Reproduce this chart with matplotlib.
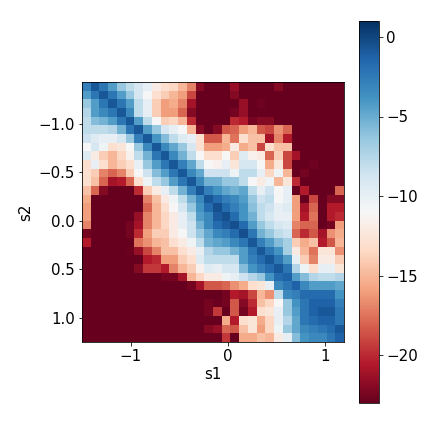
import numpy as np
import matplotlib
matplotlib.use('Agg')
import matplotlib.pyplot as plt

# границы осей
s1_range = [-1.5, 1.2]
s2_range = [1.25, -1.43]
s1_ticks = [-1, 0, 1]
s2_ticks = [-1.0, -0.5, 0.0, 0.5, 1.0]
cbar_ticks = [0, -5, -10, -15, -20]
vmin_val = -23
vmax_val = 1

# значения ячеек (строка 0 - верх)
rows_top = [
    [-2.8,-0.8,-2.3,-4.3,-6.5,-8,-9,-10,-12,-13,-13.5,-15,-17,-22,-23,-23,-23,-21.5,-23,-23,-23,-23,-22,-23,-23,-23,-23,-23,-23,-23],
    [-4.3,-2.3,-0.8,-2.3,-4.3,-6.5,-9,-11,-13,-14,-15,-16,-19,-23,-23,-23,-23,-22,-23,-23,-23,-23,-23,-23,-23,-23,-23,-23,-23,-23],
    [-6.5,-4.3,-2.3,-0.8,-2.3,-4.3,-8,-10,-14,-16,-15.5,-17,-21,-23,-23,-23,-23,-23,-21.5,-23,-22.7,-23,-23,-23,-23,-23,-23,-23,-23,-23],
    [-7.5,-4.3,-3.3,-2.3,-0.8,-3.3,-8,-10,-14,-16,-16,-18,-22,-23,-23,-23,-23,-22.5,-21.5,-23,-23,-23,-23,-23,-23,-23,-23,-23,-23,-23],
    [-8,-5.8,-5.3,-4.3,-2.3,-0.8,-4.3,-8,-11,-14,-13.5,-15,-20,-23,-23,-23,-23,-20,-20.5,-22.5,-22,-22,-23,-23,-23,-23,-23,-23,-23,-23],
    [-8,-8,-8,-7.5,-5.3,-2.3,-0.8,-4.3,-6.5,-9,-10,-11,-15,-22,-23,-22,-18.5,-18,-16,-15,-18.5,-19,-16.5,-18,-23,-23,-23,-23,-23,-23],
    [-8.5,-9.5,-10,-10,-9,-6.5,-2.8,-0.8,-3.8,-5.8,-8,-9.5,-10,-13,-18.5,-18.5,-15,-17.5,-13,-14.5,-14.5,-21,-17,-20.5,-23,-23,-23,-23,-23,-23],
    [-11,-9,-10.5,-13,-12.5,-11,-6.5,-3.3,-0.8,-3.3,-4.8,-6.5,-9,-13,-16,-16,-15.5,-12,-15.5,-14.5,-19,-13,-14.5,-14.5,-23,-23,-23,-23,-23,-23],
    [-9.5,-12,-14,-15,-13.5,-11.5,-8,-5.3,-2.3,-0.8,-3.3,-5.3,-8,-11,-13,-13,-11,-14,-9.5,-11.5,-12,-18,-14,-19,-21,-23,-23,-23,-23,-23],
    [-13,-10,-13,-15,-14,-13,-10,-6.5,-4.3,-2.3,-0.8,-2.8,-4.8,-8,-11,-11.5,-10,-12.5,-9,-9,-11,-15.5,-12.5,-19,-23,-23,-22.7,-23,-23,-23],
    [-13,-14,-17,-18,-17,-14,-11,-8.5,-5.8,-4.3,-2.3,-0.8,-3.3,-4.8,-8.5,-8.5,-8.5,-10.5,-8,-8,-10,-13.5,-10.5,-15,-23,-22.5,-23,-23,-23,-23],
    [-13,-14.5,-18,-21,-20.5,-18,-13,-10.5,-8,-6.5,-4.3,-2.3,-0.8,-3.3,-5.3,-5.3,-6.5,-6.5,-8,-11,-12,-10.5,-15,-12.5,-20,-23,-23,-23,-23,-23],
    [-14.5,-18,-22,-23,-23,-23,-20,-14,-12,-10,-8,-5.3,-2.8,-0.8,-2.8,-3.8,-4.8,-5.3,-4.8,-8,-10,-8.5,-11,-10,-23,-20.5,-23,-23,-23,-18],
    [-15.5,-23,-23,-23,-23,-23,-23,-17,-14.5,-12,-10.5,-8,-5.3,-3.3,-0.8,-1.8,-2.8,-3.3,-4.3,-6.5,-8.5,-8,-11,-10,-16,-23,-19,-23,-22,-22],
    [-16,-23,-23,-23,-23,-23,-23,-18,-15,-13,-11,-9,-6.5,-3.8,-1.8,-0.5,-1.8,-2.8,-3.8,-6,-8,-8.5,-10,-9.5,-16,-21,-18,-23,-20.5,-20.5],
]
rows_bottom = [
    [-16,-23,-23,-23,-23,-23,-21.5,-17,-15,-13.5,-12,-10,-8,-4.3,-3.3,-1,-0.5,-1.8,-3.8,-5.3,-8,-9,-10,-10,-16,-20.5,-17.5,-23,-20.5,-20],
    [-17,-23,-23,-23,-23,-22.5,-21,-17,-15,-13.5,-12,-10,-8.5,-5.3,-3.3,-1.8,-1,-0.5,-1.8,-4.3,-6.5,-8,-9,-9.5,-17,-18,-18,-23,-22.5,-16],
    [-22.5,-23,-23,-23,-23,-22.5,-20,-16,-14,-14,-12,-11,-8.5,-6.5,-4.8,-3.3,-2.8,-1.8,-0.5,-2.3,-5.3,-6.5,-8,-8.5,-18,-20,-18.5,-21,-16.5,-15.5],
    [-20.5,-23,-23,-23,-23,-23,-17.5,-16.5,-15,-14.5,-13,-12,-10.5,-8,-5.3,-4.8,-4.3,-3.3,-2.3,-0.8,-2.8,-4.3,-5.8,-7,-14,-15.5,-14.5,-20.5,-18.5,-15],
    [-23,-23,-23,-23,-23,-22.8,-21.5,-19,-17,-14.5,-14.5,-13,-12,-10,-7.5,-6.5,-6.5,-5.3,-4.3,-2.3,-0.8,-2.3,-3.8,-7,-12,-15,-17.5,-12.5,-12.5,-16.5],
    [-23,-23,-23,-23,-23,-23,-23,-20.5,-20,-16,-16,-14,-13,-9.5,-8,-8,-8,-8,-4.3,-2.8,-1.8,-0.8,-2.3,-4.3,-10,-14,-17,-12,-12,-14],
    [-23,-23,-23,-23,-23,-23,-22,-19.5,-19.5,-20.5,-17,-15,-14,-11.5,-9.5,-10,-9,-9,-5.8,-3.8,-2.8,-1.8,-0.8,-2.3,-7.5,-10.5,-13,-10,-10,-12.5],
    [-23,-23,-23,-23,-23,-23,-23,-23,-23,-22.5,-22.5,-21,-15,-13.5,-12,-12,-10.5,-10,-8.5,-7.5,-6.5,-3.8,-1.8,-1.3,-4.3,-5.8,-7.5,-8,-8,-7.5],
    [-23,-23,-23,-23,-23,-23,-23,-23,-23,-23,-23,-23,-22.5,-21,-18.5,-18.5,-18,-16.5,-15.5,-13,-12.5,-10,-3.3,-2.3,-1.3,-3.3,-4.3,-4.3,-4.3,-4.8],
    [-23,-23,-23,-23,-23,-23,-23,-23,-23,-23,-23,-23,-23,-23,-23,-23,-22.5,-20.5,-21,-19,-15,-16.5,-8,-3.3,-2.8,-1.8,-1.8,-1.8,-1.8,-3.8],
    [-23,-23,-23,-23,-23,-23,-23,-23,-23,-23,-23,-23,-23,-23,-22.5,-22.8,-22.5,-18.5,-22,-20,-14.5,-13.5,-11,-6.5,-3.8,-2.3,-1.3,-1.3,-1.3,-2.8],
    [-23,-23,-23,-23,-23,-23,-23,-23,-23,-23,-23,-23,-23,-23,-22.5,-19.5,-23,-18.5,-22.5,-20.5,-13,-12.5,-10,-6.5,-4.3,-2.3,-1.3,-0.8,-0.8,-2.3],
    [-23,-23,-23,-23,-23,-23,-23,-23,-23,-23,-23,-23,-23,-23,-23,-23,-15.5,-20.5,-13,-12.5,-15.5,-13.5,-10,-7.5,-4.8,-2.3,-1.8,-1.3,-1.3,-2.3],
    [-23,-23,-23,-23,-23,-23,-23,-23,-23,-23,-23,-23,-23,-23,-22,-21.5,-18,-18.5,-14.5,-12.5,-16,-13.5,-10.5,-6.5,-4.8,-3.3,-2.8,-2.3,-1.8,-0.8],
    [-23,-23,-23,-23,-23,-23,-23,-23,-23,-23,-23,-23,-23,-23,-23,-23,-19.5,-23,-15.5,-15.5,-14.5,-15,-12,-10,-5.8,-3.8,-3.3,-3.3,-2.3,-1.3],
]
grid = np.array(rows_top + rows_bottom)

plt.rcParams['font.size'] = 15

fig = plt.figure(figsize=(6, 6), dpi=72)
ax = fig.add_axes([82/432, 1 - 342/432, 262/432, 260/432])
cax = fig.add_axes([359/432, 1 - 403/432, 20/432, 382/432])

im = ax.imshow(grid, cmap='RdBu', vmin=vmin_val, vmax=vmax_val, aspect='auto',
               interpolation='nearest',
               extent=[s1_range[0], s1_range[1], s2_range[0], s2_range[1]])
ax.set_xticks(s1_ticks)
ax.set_yticks(s2_ticks)
ax.set_xlabel('s1', labelpad=3)
ax.set_ylabel('s2', labelpad=5)

cbar = fig.colorbar(im, cax=cax)
cbar.set_ticks(cbar_ticks)

fig.savefig('out.png', dpi=72)
